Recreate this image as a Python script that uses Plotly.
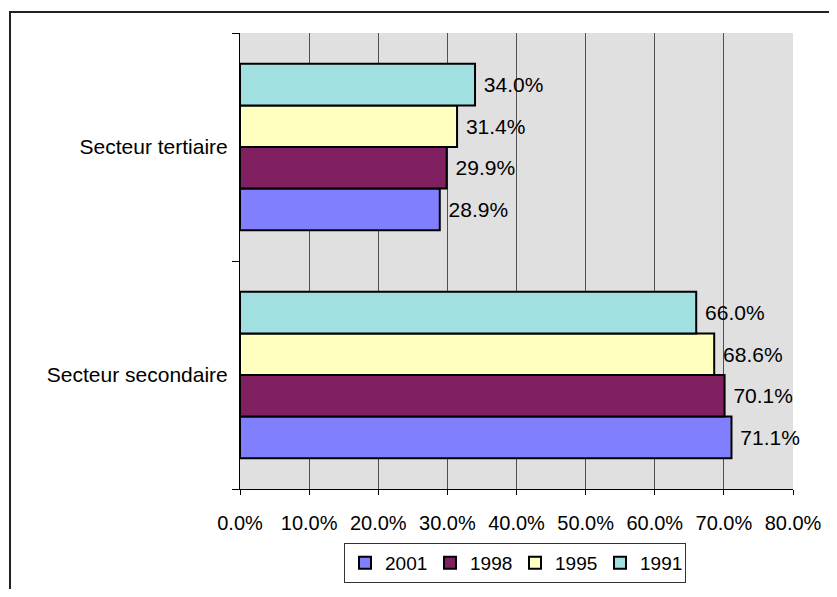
import plotly.graph_objects as go

categories = ["Secteur secondaire", "Secteur tertiaire"]
years = ["2001", "1998", "1995", "1991"]
values_2001 = [0.711, 0.289]
values_1998 = [0.701, 0.299]
values_1995 = [0.686, 0.314]
values_1991 = [0.660, 0.340]
series = [values_2001, values_1998, values_1995, values_1991]
colors = ["#8080FF", "#802060", "#FFFFC0", "#A0E0E0"]
x_ticks = [0, 0.1, 0.2, 0.3, 0.4, 0.5, 0.6, 0.7, 0.8]

FONT = "Liberation Sans, Arial, sans-serif"

fig = go.Figure()
for name, vals, col in zip(years, series, colors):
    fig.add_trace(go.Bar(
        y=categories, x=vals, name=name, orientation="h",
        marker=dict(color=col, line=dict(color="black", width=2)),
        text=["\u00a0" + f"{v*100:.1f}%" for v in vals],
        textposition="outside", constraintext="none", cliponaxis=False,
        textfont=dict(family=FONT, size=21, color="black"),
        hoverinfo="skip",
    ))

# page has an 8px body margin: figure pixel = page pixel - 8; keep page from overflowing
OFF = 8
W, H = 837 - 2 * OFF, 597 - 2 * OFF
L, T = 240 - OFF, 33 - OFF
R = W - (793 - OFF)
B = H - (489 - OFF)
pw, ph = W - L - R, H - T - B

def px_x(p):
    return (p - OFF - L) / pw

def px_y(p):
    return (H - B - (p - OFF)) / ph

fig.update_layout(
    width=W, height=H,
    margin=dict(l=L, r=R, t=T, b=B, pad=0, autoexpand=False),
    paper_bgcolor="white", plot_bgcolor="#E0E0E0",
    barmode="group", bargap=0.27, bargroupgap=0,
    font=dict(family=FONT, size=20, color="black"),
    showlegend=True,
    legend=dict(
        orientation="h", traceorder="normal",
        x=px_x(515), xanchor="center", y=px_y(543), yanchor="top",
        bordercolor="#333", borderwidth=1, bgcolor="white",
        font=dict(family=FONT, size=19, color="black"),
        itemwidth=30, tracegroupgap=0, entrywidth=40,
    ),
    xaxis=dict(
        range=[0, 0.8], tickvals=x_ticks, tickformat=".1%",
        showgrid=True, gridcolor="#505050", gridwidth=1,
        showline=True, linecolor="black", linewidth=1,
        ticks="outside", ticklen=5, tickcolor="black",
        ticklabelstandoff=11,
        zeroline=False, fixedrange=True,
        tickfont=dict(family=FONT, size=20, color="black"),
    ),
    yaxis=dict(
        categoryorder="array", categoryarray=categories,
        showgrid=False, showline=True, linecolor="black", linewidth=1,
        ticks="outside", tickson="boundaries", ticklen=7, tickcolor="black",
        ticklabelstandoff=7,
        tickfont=dict(family=FONT, size=21, color="black"),
        fixedrange=True,
    ),
    shapes=[dict(
        type="rect", xref="paper", yref="paper",
        x0=px_x(10), x1=px_x(900), y0=px_y(12), y1=px_y(660),
        line=dict(color="#222", width=2), fillcolor="rgba(0,0,0,0)",
        layer="above",
    )],
)

fig.write_html("out.html")
